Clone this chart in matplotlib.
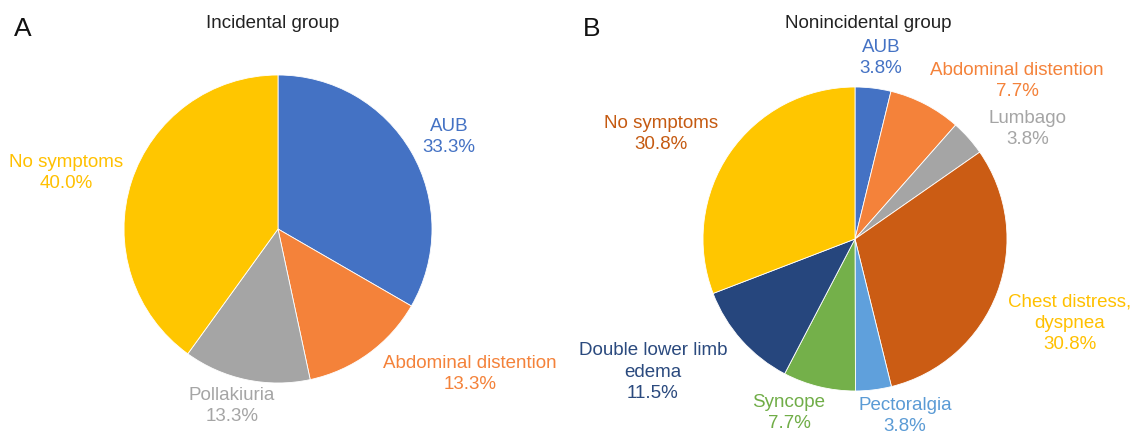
import matplotlib
matplotlib.use("Agg")
import matplotlib.pyplot as plt

plt.rcParams['font.family'] = ['Liberation Sans', 'DejaVu Sans']

# Data
left_labels = ["AUB", "Abdominal distention", "Pollakiuria", "No symptoms"]
left_values = [33.3, 13.3, 13.3, 40.0]
left_colors = ["#4472C4", "#F4823A", "#A5A5A5", "#FFC600"]
left_text_colors = ["#4472C4", "#F4823A", "#A5A5A5", "#FFC000"]

right_labels = ["AUB", "Abdominal distention", "Lumbago", "Chest distress,\ndyspnea",
                "Pectoralgia", "Syncope", "Double lower limb\nedema", "No symptoms"]
right_values = [3.8, 7.7, 3.8, 30.8, 3.8, 7.7, 11.5, 30.8]
right_colors = ["#4472C4", "#F4823A", "#A5A5A5", "#CB5C14",
                "#5FA0DC", "#74B04A", "#26467D", "#FFC600"]
right_text_colors = ["#4472C4", "#F4823A", "#A5A5A5", "#FFC000",
                     "#5B9BD5", "#70AD47", "#2B4A7E", "#C55A11"]

left_title = "Incidental group"
right_title = "Nonincidental group"

W, H = 1132, 436
fig = plt.figure(figsize=(W / 100, H / 100), dpi=100)
ax = fig.add_axes([0, 0, 1, 1])

def draw_pie(values, colors, center, radius):
    # y axis is inverted: startangle -90 is screen top, counterclock in data is clockwise on screen
    wedges, _ = ax.pie(values, colors=colors, startangle=-90, counterclock=True,
                       center=center, radius=radius,
                       wedgeprops=dict(edgecolor='white', linewidth=0.6))
    return wedges

draw_pie(left_values, left_colors, (278, 229), 154)
draw_pie(right_values, right_colors, (855, 239), 152)
ax.set_xlim(0, W)
ax.set_ylim(H, 0)
ax.set_aspect('equal')
ax.axis('off')

fs = 13.5
ls = 1.32
left_pos = [(449, 137), (470, 374), (232, 406), (66, 173)]
for lab, v, c, (x, y) in zip(left_labels, left_values, left_text_colors, left_pos):
    ax.text(x, y, f"{lab}\n{v:.1f}%", color=c, fontsize=fs, ha='center', va='center',
            linespacing=ls)

right_pos = [(881, 58), (1017, 81), (1028, 129), (1070, 323), (905, 416),
             (789, 413), (653, 372), (661, 134)]
for lab, v, c, (x, y) in zip(right_labels, right_values, right_text_colors, right_pos):
    ax.text(x, y, f"{lab}\n{v:.1f}%", color=c, fontsize=fs, ha='center', va='center',
            linespacing=ls)

ax.text(273, 23, left_title, fontsize=13.5, ha='center', va='center', color='#222222')
ax.text(868, 23, right_title, fontsize=13.5, ha='center', va='center', color='#222222')
ax.text(23, 29, "A", fontsize=19, ha='center', va='center', color='#111111')
ax.text(592, 29, "B", fontsize=19, ha='center', va='center', color='#111111')

fig.savefig("out.png", dpi=100, facecolor='white')
